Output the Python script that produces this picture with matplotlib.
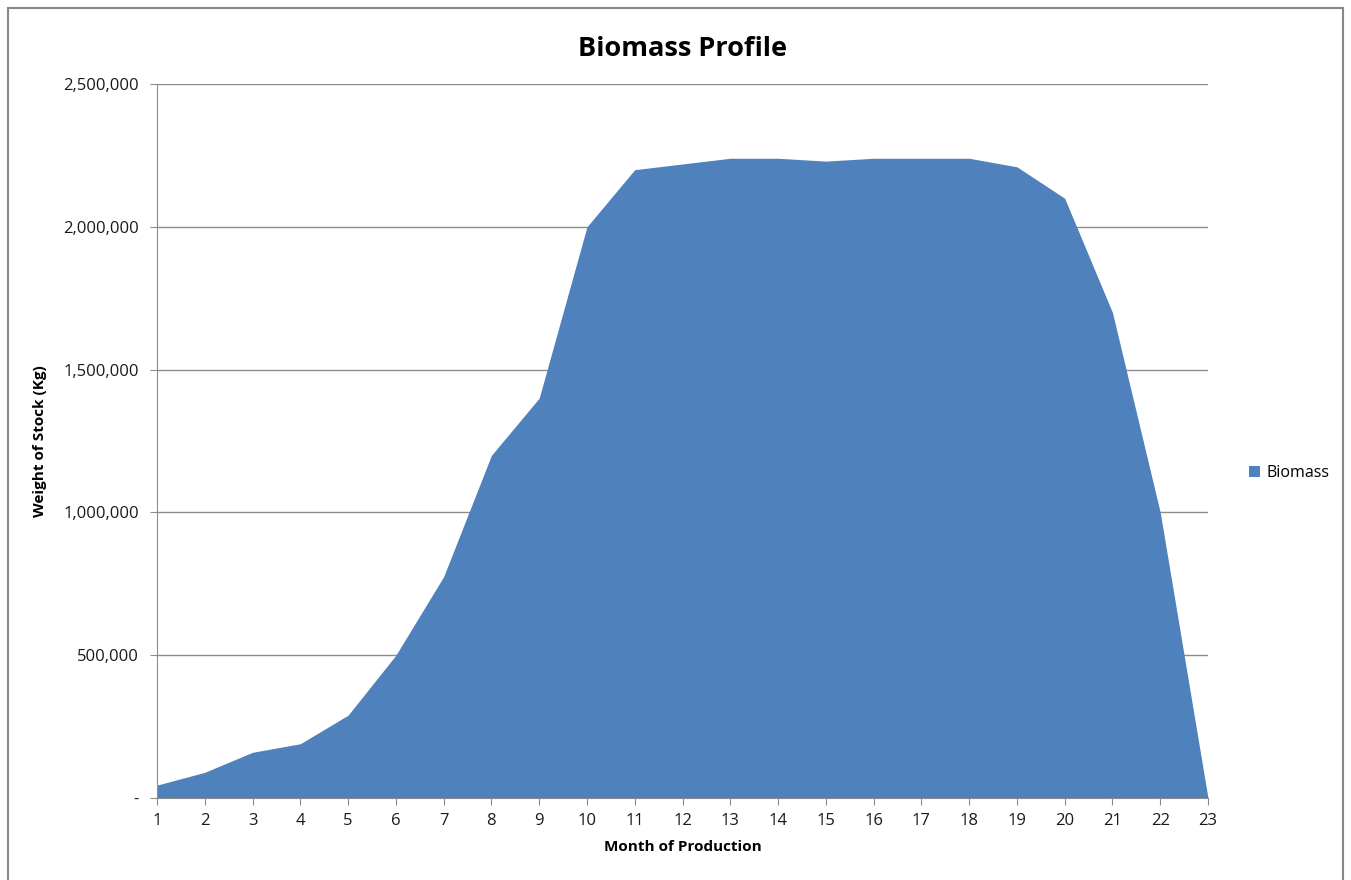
import matplotlib.pyplot as plt
from matplotlib.patches import Rectangle
from matplotlib.ticker import FuncFormatter

months = list(range(1, 24))
biomass = [45000, 90000, 160000, 190000, 290000, 500000, 775000, 1200000,
           1400000, 2000000, 2200000, 2220000, 2240000, 2240000, 2230000,
           2240000, 2240000, 2240000, 2210000, 2100000, 1700000, 1000000, 0]
y_ticks = [0, 500000, 1000000, 1500000, 2000000, 2500000]

plt.rcParams['font.family'] = ['Open Sans', 'DejaVu Sans']

fig = plt.figure(figsize=(13.51, 8.80), dpi=100)
ax = fig.add_axes([157 / 1351, 1 - 798 / 880, (1208 - 157) / 1351, (798 - 84) / 880])

# Border around the chart
fig.patches.append(Rectangle((8 / 1351, -0.01), (1343 - 8) / 1351, 1 - 8 / 880 + 0.01,
                             transform=fig.transFigure, fill=False,
                             edgecolor='#888888', linewidth=1.5))

ax.fill_between(months, biomass, 0, color='#4f81bd', linewidth=0, label='Biomass')

ax.set_xlim(1, 23)
ax.set_ylim(0, 2500000)
ax.set_xticks(months)
ax.set_yticks(y_ticks)
ax.yaxis.set_major_formatter(FuncFormatter(lambda v, p: '-' if v == 0 else f'{int(v):,}'))

ax.grid(axis='y', color='#8c8c8c', linewidth=1)
ax.set_axisbelow(True)
for s in ['top', 'right']:
    ax.spines[s].set_visible(False)
for s in ['left', 'bottom']:
    ax.spines[s].set_color('#8c8c8c')
ax.tick_params(axis='both', colors='#8c8c8c', labelcolor='#1a1a1a', labelsize=12, length=5)
ax.tick_params(axis='x', pad=6)
ax.tick_params(axis='y', pad=8)

ax.set_title('Biomass Profile', fontsize=19.5, fontweight='bold', pad=20)
ax.set_xlabel('Month of Production', fontsize=11, fontweight='bold', labelpad=8)
ax.set_ylabel('Weight of Stock (Kg)', fontsize=11, fontweight='bold', labelpad=12)

ax.legend(loc='center left', bbox_to_anchor=(1.025, 0.455), frameon=False,
          fontsize=11.5, handlelength=0.7, handleheight=0.7, handletextpad=0.4)

plt.savefig('out.png', dpi=100)
